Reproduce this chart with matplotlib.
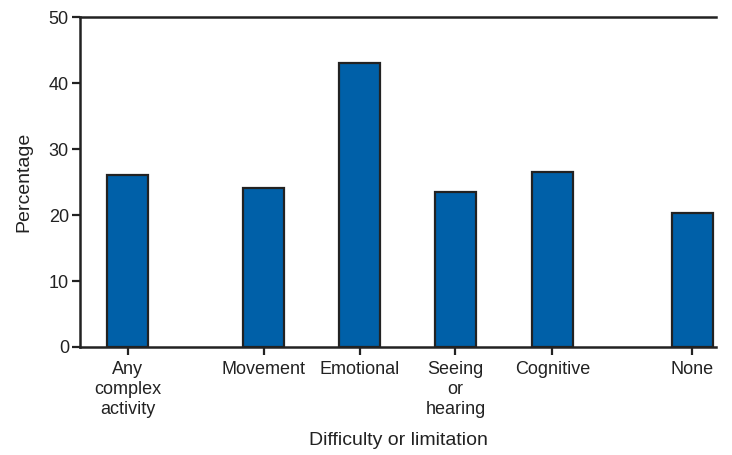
import matplotlib.pyplot as plt
import numpy as np

plt.rcParams['font.family'] = ['Liberation Sans', 'DejaVu Sans']

categories = ['Any\ncomplex\nactivity', 'Movement', 'Emotional', 'Seeing\nor\nhearing', 'Cognitive', 'None']
positions = [0, 1.417, 2.417, 3.417, 4.427, 5.885]
values = [26.1, 24.1, 43.1, 23.5, 26.6, 20.3]

fig = plt.figure(figsize=(7.32, 4.55), dpi=100)
ax = fig.add_axes([0.1093, 0.2374, 0.978 - 0.1093, 0.962 - 0.2374])

ax.bar(positions, values, width=0.427, color='#0060a8', edgecolor='#222222', linewidth=1.6, zorder=3)

ax.set_xlim(-0.495, 6.13)
ax.set_ylim(0, 50)
ax.set_yticks(np.arange(0, 51, 10))
ax.set_xticks(positions)
ax.set_xticklabels(categories, fontsize=13, linespacing=1.25, color='#222222')
ax.tick_params(axis='y', labelsize=13, colors='#222222', length=6, width=1.6, direction='out', pad=2)
ax.tick_params(axis='x', length=6, width=1.6, direction='out', color='#222222', pad=4)

for s in ['left', 'bottom', 'top']:
    ax.spines[s].set_linewidth(1.8)
    ax.spines[s].set_color('#222222')
ax.spines['right'].set_visible(False)

ax.set_ylabel('Percentage', fontsize=14, color='#222222', labelpad=12)
ax.set_xlabel('Difficulty or limitation', fontsize=14, color='#222222', labelpad=10)

plt.savefig('out.png', dpi=100)
